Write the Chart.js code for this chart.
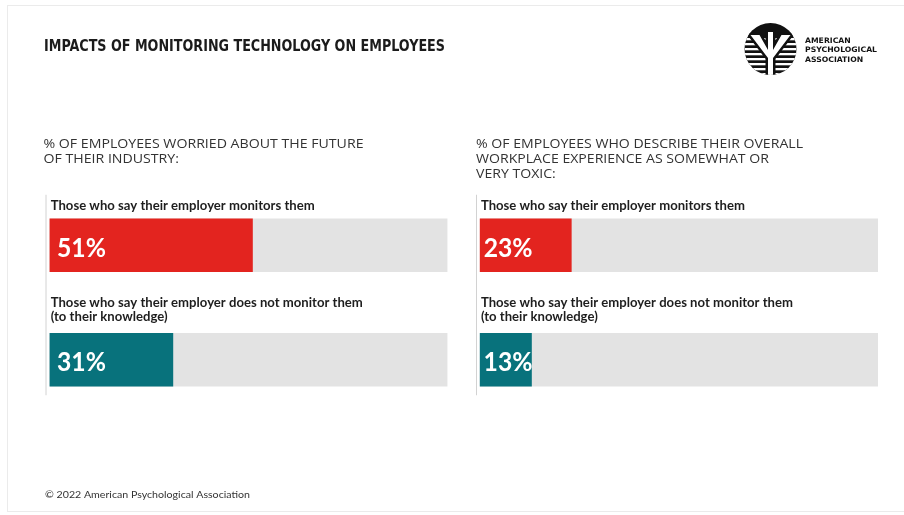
<!DOCTYPE html>
<html>
<head>
<meta charset="utf-8">
<script src="https://cdn.jsdelivr.net/npm/chart.js@4.4.1/dist/chart.umd.min.js"></script>
<style>
  html, body { margin: 0; padding: 0; background: #ffffff; }
  #page { position: relative; width: 904px; height: 515px; overflow: hidden; }
  #page canvas { position: absolute; left: 0; top: 0; }
</style>
</head>
<body>
<div id="page">
  <canvas id="worried" width="904" height="515"></canvas>
  <canvas id="toxic" width="904" height="515"></canvas>
</div>
<script>
// ---- data ----
const groups = [
  ["Those who say their employer monitors them"],
  ["Those who say their employer does not monitor them", "(to their knowledge)"]
];
const worriedValues = [51, 31];
const toxicValues = [23, 13];
const trackValues = [100, 100];
const worriedHeader = ["% OF EMPLOYEES WORRIED ABOUT THE FUTURE", "OF THEIR INDUSTRY:"];
const toxicHeader = ["% OF EMPLOYEES WHO DESCRIBE THEIR OVERALL", "WORKPLACE EXPERIENCE AS SOMEWHAT OR", "VERY TOXIC:"];
const pageTitle = "IMPACTS OF MONITORING TECHNOLOGY ON EMPLOYEES";
const orgName = ["AMERICAN", "PSYCHOLOGICAL", "ASSOCIATION"];
const footerText = "\u00A9 2022 American Psychological Association";

// ---- styles ----
const RED = '#e3241f';
const TEAL = '#08727c';
const TRACK = '#e3e3e3';
const LABEL_FONT = 'bold 12.5px Lato, "Open Sans", sans-serif';
const HEADER_FONT = '12px "Open Sans", Lato, sans-serif';
const VALUE_FONT = 'bold 26px Lato, "Open Sans", sans-serif';

function textScale(ctx, font, text, target) {
  ctx.save();
  ctx.font = font;
  const w = ctx.measureText(text).width;
  ctx.restore();
  return target / w;
}

function drawText(ctx, text, x, y, font, color, sx) {
  ctx.save();
  ctx.font = font;
  ctx.fillStyle = color;
  ctx.textBaseline = 'alphabetic';
  ctx.textAlign = 'left';
  ctx.translate(x, y);
  ctx.scale(sx || 1, 1);
  ctx.fillText(text, 0, 0);
  ctx.restore();
}

// Page furniture: frame, title, logo, footer
const pagePlugin = {
  id: 'page',
  beforeDraw(chart) {
    const ctx = chart.ctx;
    ctx.save();
    ctx.fillStyle = '#ffffff';
    ctx.fillRect(0, 0, chart.width, chart.height);
    ctx.strokeStyle = '#ebebeb';
    ctx.lineWidth = 1;
    ctx.strokeRect(7.5, 5.5, 910, 506);
    ctx.restore();

    const titleFont = 'bold 15px "Liberation Sans Narrow", "DejaVu Sans Condensed", "Roboto", sans-serif';
    drawText(ctx, pageTitle, 44, 51, titleFont, '#1b1b1b', textScale(ctx, titleFont, pageTitle, 401));

    const footFont = '10px Lato, "Open Sans", sans-serif';
    drawText(ctx, footerText, 45, 498, footFont, '#333333', textScale(ctx, footFont, footerText, 205));

    // logo mark
    const cx = 770.5, cy = 49, r = 26;
    ctx.save();
    ctx.beginPath();
    ctx.arc(cx, cy, r, 0, Math.PI * 2);
    ctx.fillStyle = '#111111';
    ctx.fill();
    ctx.clip();
    ctx.fillStyle = '#ffffff';
    for (let y = cy - 11; y < cy + r; y += 5) {
      ctx.fillRect(cx - r, y, 2 * r, 2.3);
    }
    // psi: black gap then white figure
    const psi = () => {
      ctx.beginPath();
      ctx.moveTo(cx - 20, cy - 14);
      ctx.lineTo(cx - 11, cy - 14);
      ctx.lineTo(cx - 2.5, cy + 1);
      ctx.lineTo(cx - 2.5, cy - 17);
      ctx.lineTo(cx + 2.5, cy - 17);
      ctx.lineTo(cx + 2.5, cy + 1);
      ctx.lineTo(cx + 11, cy - 14);
      ctx.lineTo(cx + 20, cy - 14);
      ctx.lineTo(cx + 2.5, cy + 9);
      ctx.lineTo(cx + 2.5, cy + r + 2);
      ctx.lineTo(cx - 2.5, cy + r + 2);
      ctx.lineTo(cx - 2.5, cy + 9);
      ctx.closePath();
    };
    psi();
    ctx.strokeStyle = '#111111';
    ctx.lineWidth = 5;
    ctx.lineJoin = 'round';
    ctx.stroke();
    psi();
    ctx.fillStyle = '#ffffff';
    ctx.fill();
    ctx.restore();

    const logoFont = 'bold 7.5px "DejaVu Sans", sans-serif';
    const ls = textScale(ctx, logoFont, orgName[1], 72);
    orgName.forEach((t, i) => drawText(ctx, t, 805, 43 + i * 9.3, logoFont, '#111111', ls));
  }
};

// Panel text: header, group labels, value labels and the thin rule at the left
const panelPlugin = {
  id: 'panelText',
  afterDatasetsDraw(chart, args, opts) {
    const ctx = chart.ctx;
    const a = chart.chartArea;
    const meta = chart.getDatasetMeta(0);
    const values = chart.data.datasets[0].data;

    // rule
    const first = meta.data[0].getProps(['y', 'height'], true);
    const last = meta.data[meta.data.length - 1].getProps(['y', 'height'], true);
    ctx.save();
    ctx.strokeStyle = '#d2d2d2';
    ctx.lineWidth = 1;
    ctx.beginPath();
    ctx.moveTo(opts.ruleX + 0.5, first.y - first.height / 2 - 24);
    ctx.lineTo(opts.ruleX + 0.5, last.y + last.height / 2 + 9);
    ctx.stroke();
    ctx.restore();

    // header
    const hs = textScale(ctx, HEADER_FONT, opts.header[0], opts.headerWidth);
    opts.header.forEach((t, i) => drawText(ctx, t, opts.headerX, a.top - 40.5 + i * 15, HEADER_FONT, '#333333', hs));

    // group labels
    const ls = textScale(ctx, LABEL_FONT, chart.data.labels[0][0], 264);
    meta.data.forEach((bar, i) => {
      const p = bar.getProps(['x', 'y', 'base', 'height'], true);
      const top = p.y - p.height / 2;
      const lines = chart.data.labels[i];
      const lastBase = top - 9 - 3.5 * (lines.length - 1);
      lines.forEach((t, j) => {
        drawText(ctx, t, p.base + 1.2, lastBase - (lines.length - 1 - j) * 13.4, LABEL_FONT, '#1e1e1e', ls);
      });

      // value label inside the bar
      const txt = values[i] + '%';
      const vs = 0.95;
      ctx.save();
      ctx.font = VALUE_FONT;
      const w = ctx.measureText(txt).width * vs;
      ctx.restore();
      let x = p.base + opts.valueInset;
      if (x + w > p.x + 1) x = Math.max(p.base + 1.5, p.x + 1 - w);
      drawText(ctx, txt, x, p.y + 11.5, VALUE_FONT, '#ffffff', vs);
    });
  }
};

function panel(canvasId, values, header, layout, extraPlugins) {
  return new Chart(document.getElementById(canvasId), {
    type: 'bar',
    data: {
      labels: groups,
      datasets: [
        { data: values, backgroundColor: [RED, TEAL], order: 0, grouped: false, barThickness: 53 },
        { data: trackValues, backgroundColor: TRACK, order: 1, grouped: false, barThickness: 53 }
      ]
    },
    options: {
      indexAxis: 'y',
      responsive: false,
      animation: false,
      layout: { padding: layout.padding },
      scales: {
        x: { display: false, min: 0, max: 100 },
        y: { display: false }
      },
      plugins: {
        legend: { display: false },
        tooltip: { enabled: false },
        panelText: {
          header: header,
          headerX: layout.headerX,
          headerWidth: layout.headerWidth,
          ruleX: layout.ruleX,
          valueInset: layout.valueInset
        }
      }
    },
    plugins: extraPlugins.concat([panelPlugin])
  });
}

panel('worried', worriedValues, worriedHeader, {
  padding: { left: 49.5, right: 456.5, top: 188, bottom: 98 },
  headerX: 43.5, headerWidth: 320, ruleX: 45.5, valueInset: 7.5
}, [pagePlugin]);

panel('toxic', toxicValues, toxicHeader, {
  padding: { left: 479.7, right: 26, top: 188, bottom: 98 },
  headerX: 476, headerWidth: 327, ruleX: 476, valueInset: 4
}, []);
</script>
</body>
</html>
